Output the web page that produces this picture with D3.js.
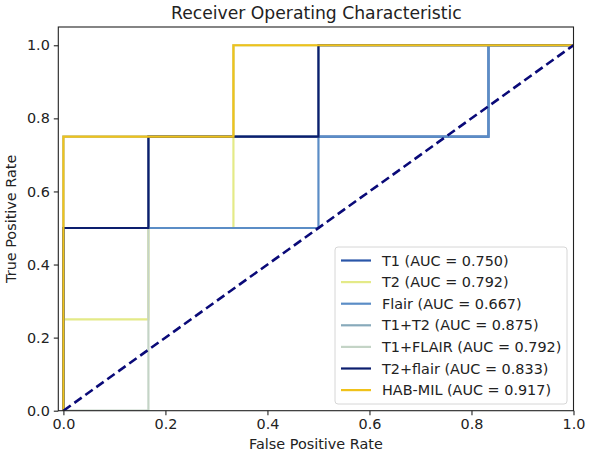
<!DOCTYPE html>
<html><head><meta charset="utf-8">
<script src="https://cdn.jsdelivr.net/npm/d3@7"></script>
<style>body{margin:0;background:#fff;} text{font-family:"DejaVu Sans",sans-serif;fill:#222;}</style>
</head><body><svg id="c" width="590" height="457"></svg>
<script>
const title = "Receiver Operating Characteristic";
const xLabel = "False Positive Rate";
const yLabel = "True Positive Rate";
const xTicks = [0.0, 0.2, 0.4, 0.6, 0.8, 1.0];
const yTicks = [0.0, 0.2, 0.4, 0.6, 0.8, 1.0];
const seriesNames = ["T1", "T2", "Flair", "T1+T2", "T1+FLAIR", "T2+flair", "HAB-MIL"];
const aucValues = [0.750, 0.792, 0.667, 0.875, 0.792, 0.833, 0.917];
const seriesColors = ["#2a56a8", "#e4ea88", "#5b8dc6", "#88aabb", "#c4d4c6", "#0c1e6e", "#f0c21a"];
const fprT1 = [0, 0, 1/6, 1/6, 5/6, 5/6, 1];
const tprT1 = [0, 0.5, 0.5, 0.75, 0.75, 1, 1];
const fprT2 = [0, 0, 1/6, 1/6, 1/3, 1/3, 1];
const tprT2 = [0, 0.25, 0.25, 0.5, 0.5, 1, 1];
const fprFlair = [0, 0, 0.5, 0.5, 5/6, 5/6, 1];
const tprFlair = [0, 0.5, 0.5, 0.75, 0.75, 1, 1];
const fprT1T2 = [0, 0, 0.5, 0.5, 1];
const tprT1T2 = [0, 0.75, 0.75, 1, 1];
const fprT1FLAIR = [0, 1/6, 1/6, 1/3, 1/3, 1];
const tprT1FLAIR = [0, 0, 0.75, 0.75, 1, 1];
const fprT2flair = [0, 0, 1/6, 1/6, 0.5, 0.5, 1];
const tprT2flair = [0, 0.5, 0.5, 0.75, 0.75, 1, 1];
const fprHAB = [0, 0, 1/3, 1/3, 1];
const tprHAB = [0, 0.75, 0.75, 1, 1];
const chanceX = [0, 1];
const chanceY = [0, 1];

const fprs = [fprT1, fprT2, fprFlair, fprT1T2, fprT1FLAIR, fprT2flair, fprHAB];
const tprs = [tprT1, tprT2, tprFlair, tprT1T2, tprT1FLAIR, tprT2flair, tprHAB];

const svg = d3.select("#c");
const L = 58.3, R = 573.5, T = 27, B = 410.7;
const x = d3.scaleLinear().domain([-0.01, 1.0]).range([L, R]);
const y = d3.scaleLinear().domain([0, 1.05]).range([B, T]);

svg.append("defs").append("clipPath").attr("id","clp")
  .append("rect").attr("x", L).attr("y", T).attr("width", R-L).attr("height", B-T);

const line = d3.line().x(d => x(d[0])).y(d => y(d[1]));
const g = svg.append("g").attr("clip-path","url(#clp)");
seriesNames.forEach((n, i) => {
  const pts = fprs[i].map((v, k) => [v, tprs[i][k]]);
  g.append("path").attr("d", line(pts)).attr("fill","none")
    .attr("stroke", seriesColors[i]).attr("stroke-width", 2.2)
    .attr("stroke-linejoin","miter");
});
g.append("path").attr("d", line(chanceX.map((v,k)=>[v, chanceY[k]])))
  .attr("fill","none").attr("stroke","#0a0a78").attr("stroke-width",2.6)
  .attr("stroke-dasharray","9,4.5");

svg.append("rect").attr("x", L).attr("y", T).attr("width", R-L).attr("height", B-T)
  .attr("fill","none").attr("stroke","#222").attr("stroke-width",1.1);

const fs = "14.4px";
const xa = svg.append("g").attr("transform", `translate(0,${B})`)
  .call(d3.axisBottom(x).tickValues(xTicks).tickFormat(d3.format(".1f")).tickSize(4.5).tickPadding(4));
const ya = svg.append("g").attr("transform", `translate(${L},0)`)
  .call(d3.axisLeft(y).tickValues(yTicks).tickFormat(d3.format(".1f")).tickSize(4.5).tickPadding(4));
[xa, ya].forEach(a => {
  a.select(".domain").remove();
  a.selectAll("line").attr("stroke","#222").attr("stroke-width",1.1);
  a.selectAll("text").style("font-family","DejaVu Sans, sans-serif").style("font-size",fs).attr("fill","#222");
});

svg.append("text").attr("x", (L+R)/2 + 0.5).attr("y", 19).attr("text-anchor","middle")
  .style("font-size","17.2px").text(title);
svg.append("text").attr("x", (L+R)/2).attr("y", 449).attr("text-anchor","middle")
  .style("font-size",fs).text(xLabel);
svg.append("text").attr("transform", `translate(16,${(T+B)/2}) rotate(-90)`)
  .attr("text-anchor","middle").style("font-size",fs).text(yLabel);

const lg = svg.append("g");
const lx = 335, ly = 247, lw = 232, lh = 157;
lg.append("rect").attr("x", lx).attr("y", ly).attr("width", lw).attr("height", lh)
  .attr("rx", 3).attr("fill","#fff").attr("fill-opacity",0.85).attr("stroke","#d6d6d6");
seriesNames.forEach((n, i) => {
  const yy = ly + 13.5 + i * 21.6;
  lg.append("line").attr("x1", lx + 6).attr("x2", lx + 36).attr("y1", yy).attr("y2", yy)
    .attr("stroke", seriesColors[i]).attr("stroke-width", 2.2);
  lg.append("text").attr("x", lx + 47).attr("y", yy).attr("dy","0.35em")
    .style("font-size",fs).text(`${n} (AUC = ${aucValues[i].toFixed(3)})`);
});
</script></body></html>
